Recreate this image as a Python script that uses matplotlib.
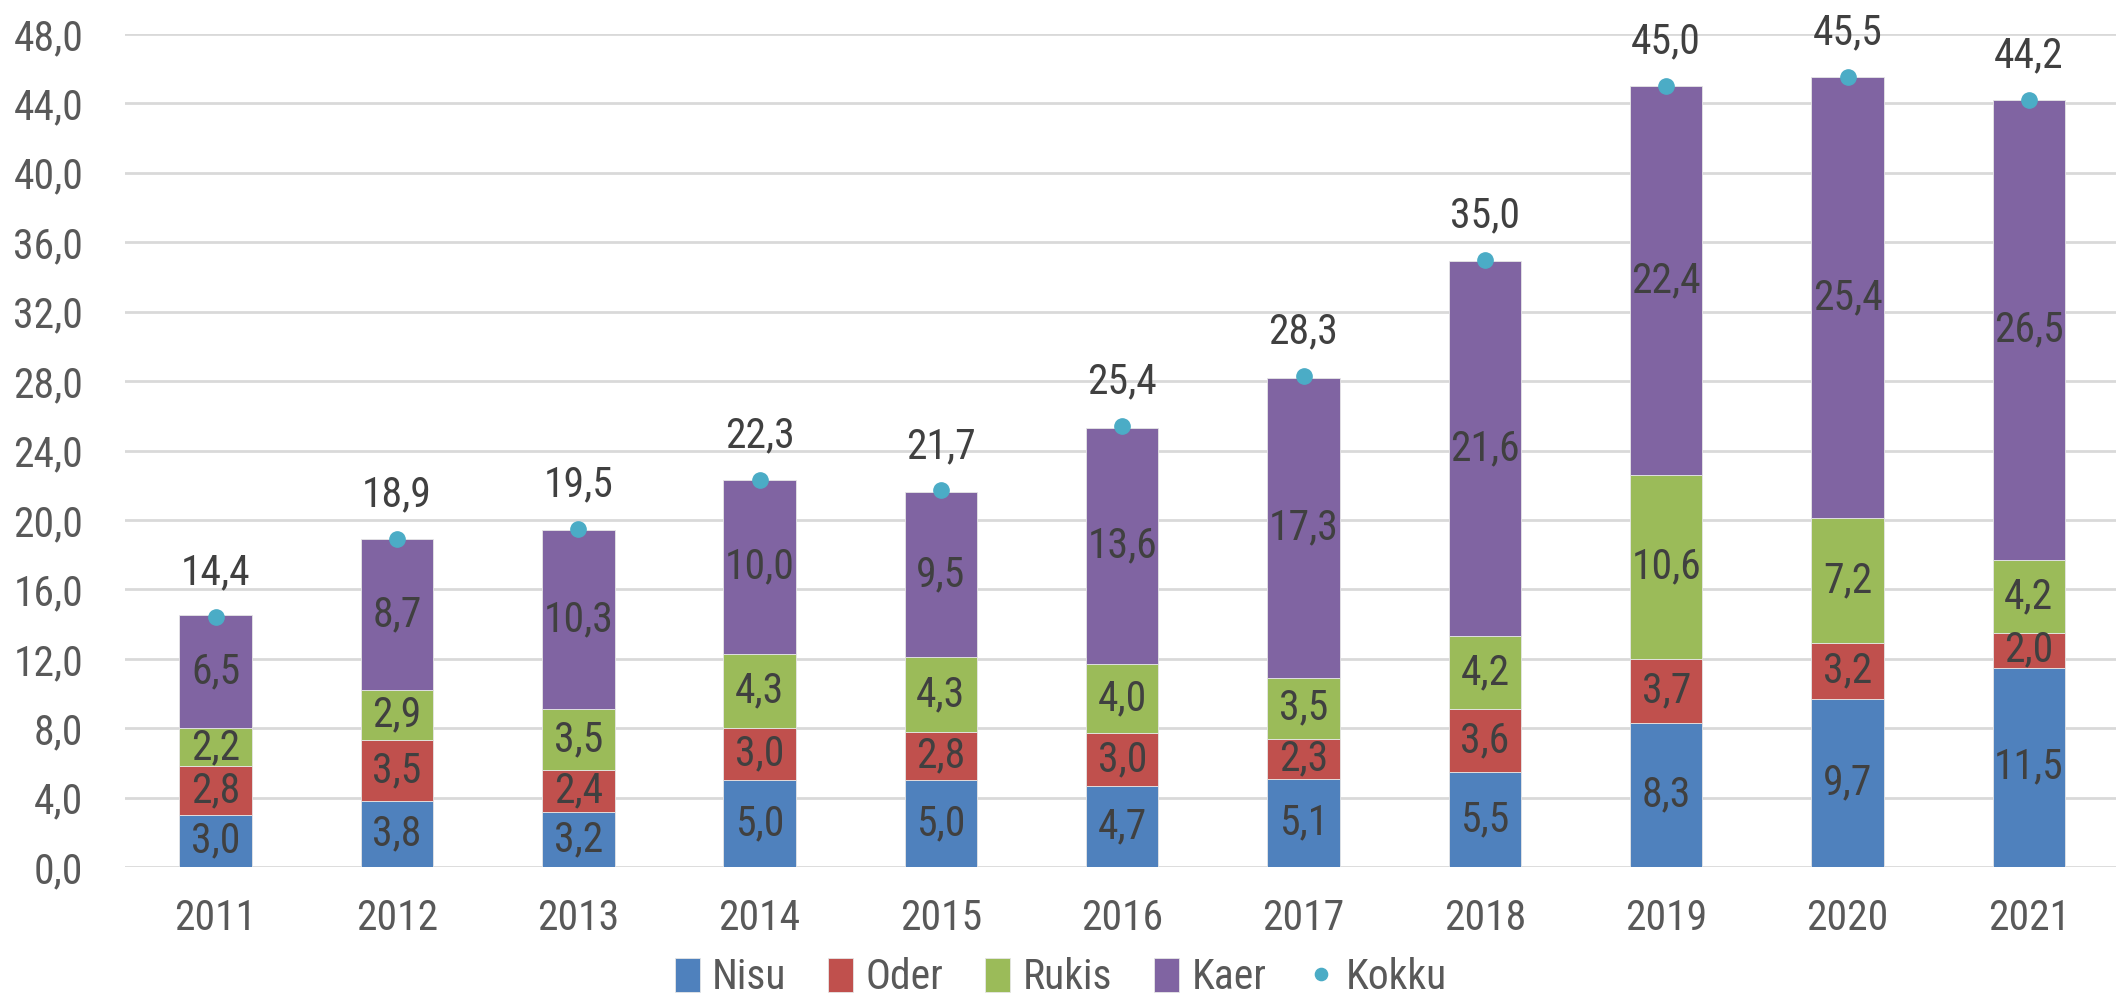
import numpy as np
import matplotlib.pyplot as plt
from matplotlib import font_manager

years = ['2011', '2012', '2013', '2014', '2015', '2016', '2017', '2018', '2019', '2020', '2021']
nisu = [3.0, 3.8, 3.2, 5.0, 5.0, 4.7, 5.1, 5.5, 8.3, 9.7, 11.5]
oder = [2.8, 3.5, 2.4, 3.0, 2.8, 3.0, 2.3, 3.6, 3.7, 3.2, 2.0]
rukis = [2.2, 2.9, 3.5, 4.3, 4.3, 4.0, 3.5, 4.2, 10.6, 7.2, 4.2]
kaer = [6.5, 8.7, 10.3, 10.0, 9.5, 13.6, 17.3, 21.6, 22.4, 25.4, 26.5]
kokku = [14.4, 18.9, 19.5, 22.3, 21.7, 25.4, 28.3, 35.0, 45.0, 45.5, 44.2]

series = [('Nisu', nisu, '#4F81BD'), ('Oder', oder, '#C0504D'),
          ('Rukis', rukis, '#9BBB59'), ('Kaer', kaer, '#8064A2')]

names = {f.name for f in font_manager.fontManager.ttflist}
fam = [f for f in ['Roboto Condensed', 'Liberation Sans Narrow', 'Roboto'] if f in names][0]
plt.rcParams['font.family'] = [fam, 'DejaVu Sans']

def fmt(v):
    return f'{v:.1f}'.replace('.', ',')

fig = plt.figure(figsize=(21.18, 9.99), dpi=100)
ax = fig.add_axes([0.059, 0.132, 0.94, 0.834])

x = np.arange(len(years))
bottom = np.zeros(len(years))
handles = []
for name, vals, col in series:
    vals = np.array(vals)
    h = ax.bar(x, vals, 0.4, bottom=bottom, color=col, edgecolor='#e6e6e6',
               linewidth=0.6, label=name, zorder=2)
    handles.append(h)
    for xi, b, v in zip(x, bottom, vals):
        ax.text(xi, b + v / 2, fmt(v), ha='center', va='center',
                fontsize=30, color='#404040', zorder=4)
    bottom += vals

dot, = ax.plot(x, kokku, 'o', color='#4BACC6', markersize=11, label='Kokku', zorder=3)
handles.append(dot)
for xi, t in zip(x, kokku):
    ax.annotate(fmt(t), (xi, t), xytext=(0, 17), textcoords='offset points',
                ha='center', va='bottom', fontsize=30, color='#404040')

ax.set_ylim(0, 48)
ax.set_xlim(-0.5, 10.48)
ax.set_yticks(np.arange(0, 49, 4))
ax.set_yticklabels([fmt(v) for v in np.arange(0, 49, 4)])
ax.set_xticks(x)
ax.set_xticklabels(years)
ax.tick_params(axis='both', length=0, labelsize=30, labelcolor='#595959')
ax.tick_params(axis='y', pad=30)
ax.tick_params(axis='x', pad=22)
ax.grid(axis='y', color='#d9d9d9', linewidth=2, zorder=0)
ax.set_axisbelow(True)
for s in ax.spines.values():
    s.set_visible(False)

ax.legend(handles=handles, loc='center', bbox_to_anchor=(0.47, -0.133), ncol=5,
          frameon=False, fontsize=30, labelcolor='#595959', handlelength=0.6,
          handleheight=0.9, handletextpad=0.3, columnspacing=1.0,
          markerscale=0.8, borderpad=0.1)

fig.savefig('out.png', dpi=100)
